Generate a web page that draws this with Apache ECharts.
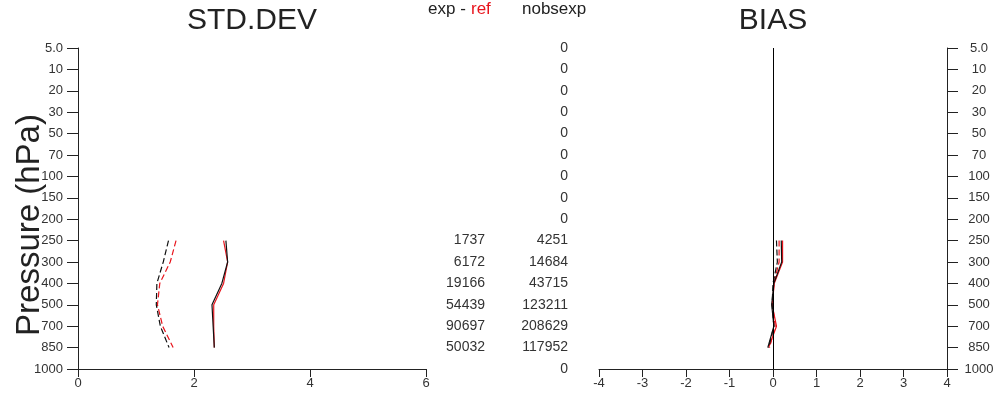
<!DOCTYPE html>
<html>
<head>
<meta charset="utf-8">
<script src="https://cdn.jsdelivr.net/npm/echarts@6/dist/echarts.min.js"></script>
<style>
  html, body { margin: 0; padding: 0; background: #fff; }
  #chart { width: 998px; height: 397px; }
</style>
</head>
<body>
<div id="chart"></div>
<script>
// pressure levels, top to bottom
var levels = ['5.0', '10', '20', '30', '50', '70', '100', '150', '200', '250', '300', '400', '500', '700', '850', '1000'];
// levels that have data
var profileLevels = ['250', '300', '400', '500', '700', '850'];

// STD.DEV
var stdExpSolid = [2.55, 2.58, 2.48, 2.31, 2.33, 2.35];
var stdRefSolid = [2.51, 2.58, 2.51, 2.34, 2.34, 2.35];
var stdExpDash = [1.56, 1.47, 1.36, 1.35, 1.42, 1.57];
var stdRefDash = [1.69, 1.59, 1.41, 1.37, 1.46, 1.64];

// BIAS
var biasExpSolid = [0.19, 0.20, 0.02, -0.03, 0.02, -0.12];
var biasRefSolid = [0.22, 0.22, 0.03, -0.02, 0.08, -0.10];
var biasExpDash = [0.08, 0.10, 0.00, -0.02, 0.02, -0.10];
var biasRefDash = [0.14, 0.14, 0.02, -0.01, 0.05, -0.08];

// observation counts per level
var diffCounts = ['', '', '', '', '', '', '', '', '', '1737', '6172', '19166', '54439', '90697', '50032', ''];
var nobsExp = ['0', '0', '0', '0', '0', '0', '0', '0', '0', '4251', '14684', '43715', '123211', '208629', '117952', '0'];

var FONT = 'Liberation Sans, Arial, sans-serif';
var BLACK = '#111';
var RED = '#e8141c';

function pairs(values) {
  return values.map(function (v, i) { return [v, profileLevels[i]]; });
}

function profile(name, values, color, dashed, axis) {
  return {
    name: name,
    type: 'line',
    xAxisIndex: axis,
    yAxisIndex: axis,
    data: pairs(values),
    symbol: 'none',
    lineStyle: { color: color, width: 1.2, type: dashed ? [6, 3] : 'solid' },
    z: color === BLACK ? 3 : 2
  };
}

function levelAxis(grid, pos, margin, align) {
  return {
    type: 'category',
    gridIndex: grid,
    position: pos,
    data: levels,
    inverse: true,
    boundaryGap: false,
    axisLine: { show: true, onZero: false, lineStyle: { color: '#222', width: 1 } },
    axisTick: { show: true, length: 11, interval: 0, lineStyle: { color: '#222' } },
    axisLabel: { interval: 0, margin: margin, align: align, fontSize: 13, color: '#333', fontFamily: FONT },
    splitLine: { show: false }
  };
}

function countAxis(grid, list) {
  return {
    type: 'category',
    gridIndex: grid,
    data: levels,
    inverse: true,
    boundaryGap: false,
    axisLine: { show: false, onZero: false },
    axisTick: { show: false },
    axisLabel: {
      interval: 0, margin: 10, fontSize: 14, color: '#333', fontFamily: FONT,
      formatter: function (v, i) { return list[i]; }
    },
    splitLine: { show: false }
  };
}

function valueAxis(grid, min, max, step) {
  return {
    type: 'value',
    gridIndex: grid,
    min: min,
    max: max,
    interval: step,
    axisLine: { show: true, onZero: false, lineStyle: { color: '#222', width: 1 } },
    axisTick: { show: true, length: 8, lineStyle: { color: '#222' } },
    axisLabel: { margin: 8, fontSize: 13, color: '#333', fontFamily: FONT },
    splitLine: { show: false }
  };
}

var chart = echarts.init(document.getElementById('chart'));

var series = [
  profile('ref dash', stdRefDash, RED, true, 0),
  profile('exp dash', stdExpDash, BLACK, true, 0),
  profile('ref', stdRefSolid, RED, false, 0),
  profile('exp', stdExpSolid, BLACK, false, 0),
  profile('ref dash', biasRefDash, RED, true, 1),
  profile('exp dash', biasExpDash, BLACK, true, 1),
  profile('ref', biasRefSolid, RED, false, 1),
  profile('exp', biasExpSolid, BLACK, false, 1)
];
// zero line in BIAS panel
series[4].markLine = {
  silent: true,
  symbol: 'none',
  label: { show: false },
  lineStyle: { color: '#000', width: 1, type: 'solid' },
  data: [{ xAxis: 0 }]
};

var option = {
  animation: false,
  backgroundColor: '#fff',
  grid: [
    { left: 78, right: 572, top: 48, bottom: 28 },
    { left: 599, right: 51, top: 48, bottom: 28 },
    { left: 495, width: 10, top: 48, bottom: 28 },
    { left: 578, width: 10, top: 48, bottom: 28 }
  ],
  xAxis: [
    valueAxis(0, 0, 6, 2),
    valueAxis(1, -4, 4, 1),
    { type: 'value', gridIndex: 2, show: false },
    { type: 'value', gridIndex: 3, show: false }
  ],
  yAxis: [
    levelAxis(0, 'left', 15, 'right'),
    levelAxis(1, 'right', 32, 'center'),
    countAxis(2, diffCounts),
    countAxis(3, nobsExp)
  ],
  graphic: [
    { type: 'text', x: 252, y: 21, style: { text: 'STD.DEV', font: '30px ' + FONT, fill: '#222', textAlign: 'center', textVerticalAlign: 'middle' } },
    { type: 'text', x: 773, y: 21, style: { text: 'BIAS', font: '30px ' + FONT, fill: '#222', textAlign: 'center', textVerticalAlign: 'middle' } },
    { type: 'text', x: 428, y: 9, style: { text: 'exp -', font: '17px ' + FONT, fill: '#222', textAlign: 'left', textVerticalAlign: 'middle' } },
    { type: 'text', x: 471, y: 9, style: { text: 'ref', font: '17px ' + FONT, fill: RED, textAlign: 'left', textVerticalAlign: 'middle' } },
    { type: 'text', x: 522, y: 9, style: { text: 'nobsexp', font: '17px ' + FONT, fill: '#222', textAlign: 'left', textVerticalAlign: 'middle' } },
    { type: 'text', x: 30, y: 225, rotation: Math.PI / 2, style: { text: 'Pressure (hPa)', font: '33px ' + FONT, fill: '#222', textAlign: 'center', textVerticalAlign: 'middle' } }
  ],
  series: series
};

chart.setOption(option);
</script>
</body>
</html>
